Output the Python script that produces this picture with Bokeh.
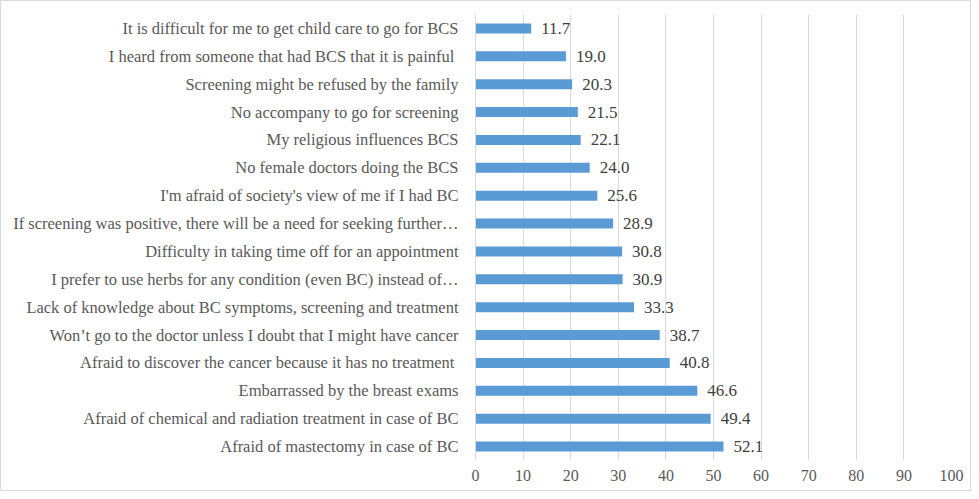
from bokeh.plotting import figure
from bokeh.models import ColumnDataSource, FactorRange, Range1d, FixedTicker, LabelSet
from bokeh.embed import file_html
from bokeh.resources import INLINE

# Top-to-bottom order as shown in the chart
barriers = [
    "It is difficult for me to get child care to go for BCS",
    "I heard from someone that had BCS that it is painful ",
    "Screening might be refused by the family",
    "No accompany to go for screening",
    "My religious influences BCS",
    "No female doctors doing the BCS",
    "I'm afraid of society's view of me if I had BC",
    "If screening was positive, there will be a need for seeking further\u2026",
    "Difficulty in taking time off for an appointment",
    "I prefer to use herbs for any condition (even BC) instead of\u2026",
    "Lack of knowledge about BC symptoms, screening and treatment",
    "Won\u2019t go to the doctor unless I doubt that I might have cancer",
    "Afraid to discover the cancer because it has no treatment ",
    "Embarrassed by the breast exams",
    "Afraid of chemical and radiation treatment in case of BC",
    "Afraid of mastectomy in case of BC",
]
percent = [11.7, 19.0, 20.3, 21.5, 22.1, 24.0, 25.6, 28.9, 30.8, 30.9, 33.3, 38.7, 40.8, 46.6, 49.4, 52.1]
x_ticks = [0, 10, 20, 30, 40, 50, 60, 70, 80, 90, 100]

src = ColumnDataSource(dict(
    cat=barriers,
    val=percent,
    lab=["%.1f" % v for v in percent],
))

FONT = "Liberation Serif"

p = figure(
    width=971, height=491,
    y_range=FactorRange(*list(reversed(barriers)), range_padding=0),
    x_range=Range1d(0, 100),
    output_backend="svg", toolbar_location=None,
    min_border_left=474, min_border_right=21, min_border_top=13, min_border_bottom=32,
)
p.styles = {"border": "1px solid #d9d9d9"}

p.hbar(y="cat", right="val", height=0.36, source=src, fill_color="#5b9bd5", line_color=None)

labels = LabelSet(x="val", y="cat", text="lab", source=src, x_offset=10,
                  text_baseline="middle", text_align="left",
                  text_font=FONT, text_font_size="17px", text_color="#404040")
p.add_layout(labels)

p.outline_line_color = None
p.ygrid.grid_line_color = None
p.xgrid.grid_line_color = "#d9d9d9"
p.xgrid.ticker = FixedTicker(ticks=x_ticks)

p.xaxis.ticker = FixedTicker(ticks=x_ticks)
p.xaxis.axis_line_color = None
p.xaxis.major_tick_line_color = None
p.xaxis.minor_tick_line_color = None
p.xaxis.major_label_text_font = FONT
p.xaxis.major_label_text_font_size = "16px"
p.xaxis.major_label_text_color = "#595959"
p.xaxis.major_label_standoff = 3

p.yaxis.axis_line_color = "#d9d9d9"
p.yaxis.major_tick_line_color = None
p.yaxis.minor_tick_line_color = None
p.yaxis.major_label_text_font = FONT
p.yaxis.major_label_text_font_size = "16.5px"
p.yaxis.major_label_text_color = "#595959"
p.yaxis.major_label_standoff = 11

open("out.html", "w").write(file_html(p, INLINE))
